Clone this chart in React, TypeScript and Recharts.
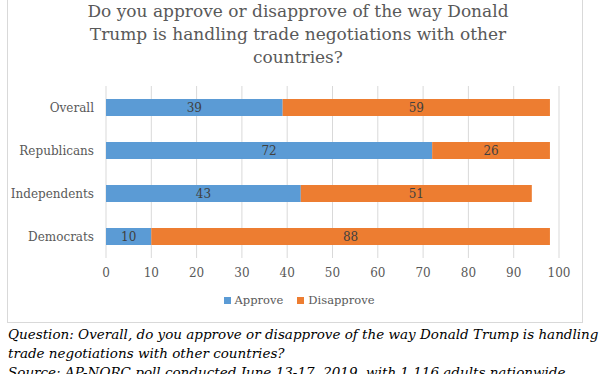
import React from "react";
import { BarChart, Bar, XAxis, YAxis, CartesianGrid, LabelList } from "recharts";

const groups = ["Overall", "Republicans", "Independents", "Democrats"];
const approve = [39, 72, 43, 10];
const disapprove = [59, 26, 51, 88];
const xTicks = [0, 10, 20, 30, 40, 50, 60, 70, 80, 90, 100];

const BLUE = "#5B9BD5";
const ORANGE = "#ED7D31";
const FONT = "'DejaVu Serif', serif";

const data = groups.map((name, i) => ({ name, approve: approve[i], disapprove: disapprove[i] }));

const legendItems = [
  { label: "Approve", color: BLUE },
  { label: "Disapprove", color: ORANGE },
];

function LegendBox() {
  return (
    <div
      style={{
        position: "absolute",
        left: 0,
        top: 293,
        width: 598,
        display: "flex",
        justifyContent: "center",
        gap: 14,
        fontFamily: FONT,
        fontSize: 11.5,
        color: "#595959",
      }}
    >
      {legendItems.map((it) => (
        <span key={it.label} style={{ display: "flex", alignItems: "center", gap: 4 }}>
          <span style={{ width: 7, height: 7, background: it.color, display: "inline-block" }} />
          {it.label}
        </span>
      ))}
    </div>
  );
}

export default function App() {
  return (
    <div style={{ position: "absolute", left: 0, top: 0, width: 609, height: 374, overflow: "hidden", background: "#fff" }}>
      <div
        style={{
          position: "absolute",
          left: 7,
          top: -10,
          width: 574,
          height: 331,
          border: "1px solid #d9d9d9",
        }}
      />
      <div
        style={{
          position: "absolute",
          left: 0,
          top: 0,
          width: 596,
          textAlign: "center",
          fontFamily: FONT,
          fontSize: 17,
          lineHeight: "23px",
          color: "#595959",
        }}
      >
        Do you approve or disapprove of the way Donald
        <br />
        Trump is handling trade negotiations with other
        <br />
        countries?
      </div>
      <div style={{ position: "absolute", left: 0, top: 0 }}>
        <BarChart
          width={609}
          height={322}
          data={data}
          layout="vertical"
          margin={{ top: 86, right: 50, bottom: 34, left: 0 }}
          barSize={17}
        >
          <CartesianGrid horizontal={false} stroke="#d9d9d9" />
          <XAxis
            type="number"
            domain={[0, 100]}
            ticks={xTicks}
            axisLine={false}
            tickLine={false}
            height={30}
            tick={{ fontFamily: FONT, fontSize: 12, fill: "#595959" }}
            tickMargin={4}
          />
          <YAxis
            type="category"
            dataKey="name"
            width={106}
            axisLine={false}
            tickLine={false}
            tickMargin={6}
            tick={{ fontFamily: FONT, fontSize: 12, fill: "#595959" }}
          />
          <Bar dataKey="approve" name="Approve" stackId="a" fill={BLUE} isAnimationActive={false}>
            <LabelList dataKey="approve" position="center" fill="#404040" fontSize={12} fontFamily={FONT} />
          </Bar>
          <Bar dataKey="disapprove" name="Disapprove" stackId="a" fill={ORANGE} isAnimationActive={false}>
            <LabelList dataKey="disapprove" position="center" fill="#404040" fontSize={12} fontFamily={FONT} />
          </Bar>
        </BarChart>
      </div>
      <LegendBox />
      <div
        style={{
          position: "absolute",
          left: 8,
          top: 325,
          width: 601,
          fontFamily: FONT,
          fontStyle: "italic",
          fontSize: 13.5,
          lineHeight: "19px",
          color: "#000",
          whiteSpace: "nowrap",
        }}
      >
        Question: Overall, do you approve or disapprove of the way Donald Trump is handling
        <br />
        trade negotiations with other countries?
        <br />
        Source: AP-NORC poll conducted June 13-17, 2019, with 1,116 adults nationwide
      </div>
    </div>
  );
}
